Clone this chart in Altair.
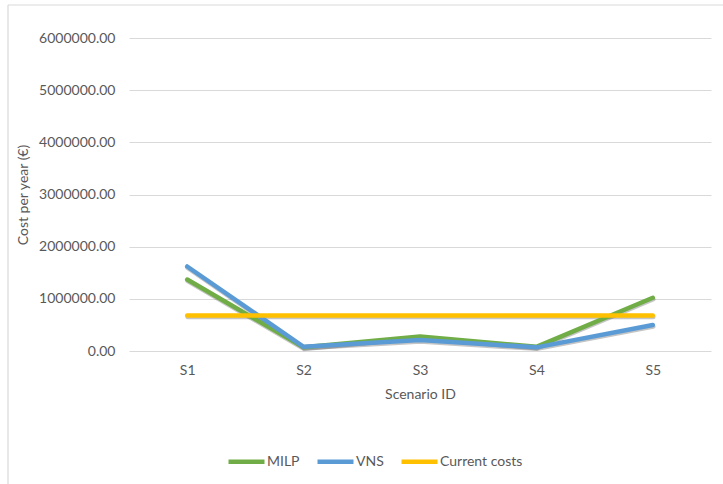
import altair as alt
import pandas as pd

scenarios = ["S1", "S2", "S3", "S4", "S5"]
milp = [1370000, 70000, 280000, 80000, 1020000]
vns = [1620000, 80000, 210000, 70000, 500000]
current_costs = [680000, 680000, 680000, 680000, 680000]

series_names = ["MILP", "VNS", "Current costs"]
series_colors = ["#70AD47", "#5B9BD5", "#FFC000"]

rows = []
for name, values in zip(series_names, [milp, vns, current_costs]):
    for s, v in zip(scenarios, values):
        rows.append({"Scenario": s, "Cost": v, "Series": name})
df = pd.DataFrame(rows)

FONT = "Lato"
GREY = "#595959"

x_enc = alt.X(
    "Scenario:N",
    sort=scenarios,
    scale=alt.Scale(type="point", padding=0.5),
    axis=alt.Axis(
        title="Scenario ID",
        labelAngle=0,
        labelPadding=12,
        titlePadding=10,
        ticks=False,
        domain=False,
        grid=False,
    ),
)
y_enc = alt.Y(
    "Cost:Q",
    scale=alt.Scale(domain=[0, 6000000]),
    axis=alt.Axis(
        title="Cost per year (€)",
        values=[0, 1000000, 2000000, 3000000, 4000000, 5000000, 6000000],
        format=".2f",
        ticks=False,
        domain=False,
        labelPadding=14,
        titlePadding=8,
        gridColor="#D9D9D9",
        gridWidth=1.2,
    ),
)

shadow = alt.Chart(df).mark_line(
    strokeWidth=4.5, strokeCap="round", color="#404040", opacity=0.3, yOffset=1.5, xOffset=0.5
).encode(
    x=x_enc,
    y=y_enc,
    detail="Series:N",
    order=alt.Order("Scenario:N"),
)

lines = alt.Chart(df).mark_line(strokeWidth=4.5, strokeCap="round", strokeJoin="round").encode(
    x=x_enc,
    y=y_enc,
    color=alt.Color(
        "Series:N",
        sort=series_names,
        scale=alt.Scale(domain=series_names, range=series_colors),
        legend=alt.Legend(
            title=None,
            orient="none",
            direction="horizontal",
            legendX=97,
            legendY=403,
            symbolType="stroke",
            symbolSize=1296,
            symbolStrokeWidth=4.5,
            labelOffset=0,
            columnPadding=8,
            labelFontSize=14,
            labelColor=GREY,
            labelFont=FONT,
        ),
    ),
    order=alt.Order("Scenario:N"),
)

# Light frame lines along the top and left edges of the chart area
frame_left = alt.Chart(pd.DataFrame({"k": [0]})).mark_rule(color="#D9D9D9", strokeWidth=1.2).encode(
    x=alt.value(-121), y=alt.value(-33), y2=alt.value(460)
)
frame_top = alt.Chart(pd.DataFrame({"k": [0]})).mark_rule(color="#D9D9D9", strokeWidth=1.2).encode(
    x=alt.value(-121), x2=alt.value(620), y=alt.value(-33)
)

chart = (
    alt.layer(frame_left, frame_top, shadow, lines)
    .properties(
        width=582,
        height=313,
        autosize=alt.AutoSizeParams(type="none"),
        padding={"left": 129, "top": 38, "right": 12, "bottom": 133},
    )
    .configure_view(stroke=None)
    .configure_axis(
        labelFont=FONT,
        titleFont=FONT,
        labelColor=GREY,
        titleColor=GREY,
        labelFontSize=14,
        titleFontSize=14,
        titleFontWeight="normal",
    )
)

chart.save("out.html", embed_options={"renderer": "svg", "actions": False})
